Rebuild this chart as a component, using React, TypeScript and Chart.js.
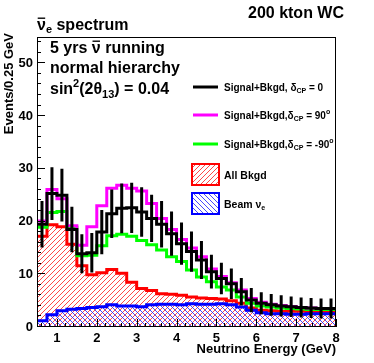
import React, { useEffect, useRef } from 'react';
import { Chart, registerables } from 'chart.js';

Chart.register(...registerables);

// Bin edges (GeV) and bin centres of the 0.25 GeV histogram
const binEdges = [0.5, 0.75, 1, 1.25, 1.5, 1.75, 2, 2.25, 2.5, 2.75, 3, 3.25, 3.5, 3.75, 4, 4.25, 4.5, 4.75, 5, 5.25, 5.5, 5.75, 6, 6.25, 6.5, 6.75, 7, 7.25, 7.5, 7.75, 8];
const binCenters = [0.625, 0.875, 1.125, 1.375, 1.625, 1.875, 2.125, 2.375, 2.625, 2.875, 3.125, 3.375, 3.625, 3.875, 4.125, 4.375, 4.625, 4.875, 5.125, 5.375, 5.625, 5.875, 6.125, 6.375, 6.625, 6.875, 7.125, 7.375, 7.625, 7.875];

// Signal+Bkgd, dCP = 0 (black, with errors)
const sigBkgdCP0 = [19.5, 25.3, 25.0, 18.5, 13.9, 14.1, 18.0, 21.5, 22.5, 22.6, 21.8, 20.6, 19.5, 17.7, 15.8, 14.3, 12.7, 10.5, 9.2, 8.2, 6.7, 5.1, 4.5, 4.2, 4.0, 3.85, 3.7, 3.6, 3.5, 3.5];
const sigBkgdCP0Err = [4.4, 5.0, 5.0, 4.3, 3.7, 3.75, 4.2, 4.6, 4.7, 4.75, 4.7, 4.5, 4.4, 4.2, 4.0, 3.8, 3.6, 3.2, 3.0, 2.9, 2.6, 2.3, 2.1, 2.05, 2.0, 1.95, 1.9, 1.9, 1.9, 1.9];
// Signal+Bkgd, dCP = 90 (magenta)
const sigBkgdCP90 = [20.1, 26.1, 24.3, 19.2, 15.5, 19.0, 23.0, 26.3, 26.9, 26.3, 25.8, 23.4, 20.6, 18.5, 16.6, 15.0, 13.3, 11.0, 9.6, 8.4, 7.0, 5.4, 4.7, 4.3, 4.1, 3.9, 3.7, 3.6, 3.5, 3.5];
// Signal+Bkgd, dCP = -90 (green)
const sigBkgdCPm90 = [18.9, 21.7, 21.9, 18.9, 13.5, 13.6, 15.4, 17.3, 17.6, 17.2, 16.4, 15.6, 14.6, 13.3, 12.4, 10.8, 9.5, 8.6, 7.6, 7.0, 5.7, 4.5, 4.0, 3.8, 3.6, 3.5, 3.4, 3.3, 3.3, 3.3];
// All Bkgd (red hatched)
const allBkgd = [17.2, 19.4, 19.0, 15.7, 11.6, 9.9, 10.3, 10.9, 10.2, 8.5, 7.3, 6.9, 6.3, 6.2, 6.0, 5.7, 5.5, 5.4, 5.3, 5.0, 4.5, 3.6, 3.2, 3.1, 3.0, 3.0, 3.0, 2.9, 2.9, 2.9];
// Beam nu_e (blue hatched)
const beamNue = [1.2, 2.3, 3.1, 3.35, 3.5, 3.7, 3.85, 4.2, 4.0, 4.0, 3.85, 4.2, 4.3, 4.3, 4.2, 4.4, 4.3, 4.3, 4.4, 4.2, 3.8, 3.2, 2.7, 2.5, 2.5, 2.4, 2.4, 2.5, 2.5, 2.5];

const xTickLabels = [1, 2, 3, 4, 5, 6, 7, 8];
const yTickLabels = [0, 10, 20, 30, 40, 50];

const FONT = '"Liberation Sans", Arial, Helvetica, sans-serif';

function stepPoints(values: number[]) {
  return binEdges.map((e, i) => ({ x: e, y: values[Math.min(i, values.length - 1)] }));
}

function makeHatch(color: string, forward: boolean): CanvasPattern | string {
  const s = 5;
  const c = document.createElement('canvas');
  c.width = s;
  c.height = s;
  const g = c.getContext('2d');
  if (!g) return 'transparent';
  g.strokeStyle = color;
  g.lineWidth = 1;
  g.beginPath();
  if (forward) {
    g.moveTo(-1, s + 1); g.lineTo(s + 1, -1);
    g.moveTo(-1, 1); g.lineTo(1, -1);
    g.moveTo(s - 1, s + 1); g.lineTo(s + 1, s - 1);
  } else {
    g.moveTo(-1, -1); g.lineTo(s + 1, s + 1);
    g.moveTo(-1, s - 1); g.lineTo(1, s + 1);
    g.moveTo(s - 1, -1); g.lineTo(s + 1, 1);
  }
  g.stroke();
  const p = g.createPattern(c, 'repeat');
  return p || 'transparent';
}

type Part = { t: string; size?: number; dy?: number; bar?: boolean };

function drawRich(ctx: CanvasRenderingContext2D, x: number, y: number, parts: Part[], base: number) {
  let cx = x;
  for (const p of parts) {
    const size = p.size ?? base;
    ctx.font = `bold ${size}px ${FONT}`;
    const w = ctx.measureText(p.t).width;
    const yy = y + (p.dy ?? 0);
    ctx.fillText(p.t, cx, yy);
    if (p.bar) {
      ctx.fillRect(cx + w * 0.08, yy - size * 0.78, w * 0.84, Math.max(1.2, size * 0.085));
    }
    cx += w;
  }
  return cx;
}

const decorations = {
  id: 'rootDecorations',
  afterDatasetsDraw(chart: any) {
    const { ctx, chartArea: a, scales } = chart;
    const xs = scales.x;
    const ys = scales.y;
    ctx.save();
    ctx.beginPath();
    ctx.rect(a.left, a.top, a.right - a.left, a.bottom - a.top);
    ctx.clip();
    ctx.strokeStyle = '#000';
    ctx.lineWidth = 3;
    ctx.beginPath();
    binCenters.forEach((c, i) => {
      const px = xs.getPixelForValue(c);
      const v = sigBkgdCP0[i];
      const e = sigBkgdCP0Err[i];
      ctx.moveTo(px, ys.getPixelForValue(v + e));
      ctx.lineTo(px, ys.getPixelForValue(Math.max(0, v - e)));
    });
    ctx.stroke();
    ctx.restore();
  },
  afterDraw(chart: any) {
    const { ctx, chartArea: a, scales } = chart;
    const xs = scales.x;
    const ys = scales.y;
    ctx.save();
    // frame
    ctx.strokeStyle = '#000';
    ctx.lineWidth = 1;
    ctx.strokeRect(Math.round(a.left) + 0.5, Math.round(a.top) + 0.5, Math.round(a.right - a.left) - 1, Math.round(a.bottom - a.top) - 1);
    // y ticks (inside)
    ctx.beginPath();
    for (let v = 0; v <= ys.max + 1e-6; v += 2) {
      const py = Math.round(ys.getPixelForValue(v)) - 0.5;
      const len = v % 10 === 0 ? 8 : 4;
      ctx.moveTo(a.left, py);
      ctx.lineTo(a.left + len, py);
    }
    // x ticks (inside)
    for (let k = 3; k <= 40; k++) {
      const v = k * 0.2;
      if (v < xs.min - 1e-6 || v > xs.max + 1e-6) continue;
      const px = Math.round(xs.getPixelForValue(v)) + 0.5;
      const len = k % 5 === 0 ? 8 : 4;
      ctx.moveTo(px, a.bottom);
      ctx.lineTo(px, a.bottom - len);
    }
    ctx.stroke();

    ctx.fillStyle = '#000';
    ctx.textBaseline = 'alphabetic';
    ctx.textAlign = 'left';

    // top-right label
    ctx.font = `bold 16px ${FONT}`;
    ctx.textAlign = 'right';
    ctx.fillText('200 kton WC', 344, 18);
    ctx.textAlign = 'left';

    // title
    drawRich(ctx, 37, 30, [
      { t: '\u03BD', bar: true },
      { t: 'e', size: 11, dy: 3 },
      { t: ' spectrum' },
    ], 16);

    // in-plot texts
    drawRich(ctx, 50, 53, [
      { t: '5 yrs ' },
      { t: '\u03BD', bar: true },
      { t: ' running' },
    ], 16);
    drawRich(ctx, 50, 73, [{ t: 'normal hierarchy' }], 16);
    drawRich(ctx, 50, 94, [
      { t: 'sin' },
      { t: '2', size: 11, dy: -7 },
      { t: '(2\u03B8' },
      { t: '13', size: 11, dy: 4 },
      { t: ') = 0.04' },
    ], 16);

    // legend
    const lx0 = 193;
    const lx1 = 218;
    const tx = 224;
    const lineEntries = [
      { y: 87, color: '#000000', parts: [{ t: 'Signal+Bkgd, \u03B4' }, { t: 'CP', size: 7, dy: 2 }, { t: ' = 0' }] },
      { y: 115, color: '#ff00ff', parts: [{ t: 'Signal+Bkgd,\u03B4' }, { t: 'CP', size: 7, dy: 2 }, { t: ' = 90' }, { t: 'o', size: 7, dy: -5 }] },
      { y: 144, color: '#00ff00', parts: [{ t: 'Signal+Bkgd,\u03B4' }, { t: 'CP', size: 7, dy: 2 }, { t: ' = -90' }, { t: 'o', size: 7, dy: -5 }] },
    ];
    ctx.lineWidth = 3;
    for (const e of lineEntries) {
      ctx.strokeStyle = e.color;
      ctx.beginPath();
      ctx.moveTo(lx0, e.y);
      ctx.lineTo(lx1, e.y);
      ctx.stroke();
      ctx.fillStyle = '#000';
      drawRich(ctx, tx, e.y + 3.5, e.parts, 10);
    }
    const boxes = [
      { y0: 164, y1: 185, color: '#ff0000', fill: chart.$redHatch, parts: [{ t: 'All Bkgd' }] },
      { y0: 193, y1: 214, color: '#0000ff', fill: chart.$blueHatch, parts: [{ t: 'Beam \u03BD' }, { t: 'e', size: 7, dy: 2 }] },
    ];
    for (const b of boxes) {
      ctx.fillStyle = '#ffffff';
      ctx.fillRect(192, b.y0, 27, b.y1 - b.y0);
      ctx.fillStyle = b.fill;
      ctx.fillRect(192, b.y0, 27, b.y1 - b.y0);
      ctx.strokeStyle = b.color;
      ctx.lineWidth = 2;
      ctx.strokeRect(192, b.y0, 27, b.y1 - b.y0);
      ctx.fillStyle = '#000';
      drawRich(ctx, tx, (b.y0 + b.y1) / 2 + 4, b.parts, 10.5);
    }

    // axis titles
    ctx.fillStyle = '#000';
    ctx.font = `bold 13px ${FONT}`;
    ctx.textAlign = 'right';
    ctx.fillText('Neutrino Energy (GeV)', 336, 353);
    ctx.save();
    ctx.translate(13, 33);
    ctx.rotate(-Math.PI / 2);
    ctx.textAlign = 'right';
    ctx.fillText('Events/0.25 GeV', 0, 0);
    ctx.restore();

    ctx.restore();
  },
};

export default function App() {
  const canvasRef = useRef<HTMLCanvasElement | null>(null);

  useEffect(() => {
    const canvas = canvasRef.current;
    if (!canvas) return;
    const redHatch = makeHatch('rgba(255,40,40,0.85)', true);
    const blueHatch = makeHatch('rgba(40,40,255,0.85)', false);
    const tickFont = { family: FONT, size: 13, weight: 'bold' as const };
    const chart: any = new Chart(canvas, {
      type: 'line',
      data: {
        datasets: [
          { label: 'All Bkgd', data: stepPoints(allBkgd), stepped: 'before', borderColor: '#ff0000', backgroundColor: redHatch as any, fill: 'origin', borderWidth: 3, pointRadius: 0, order: 5 },
          { label: 'Beam nue', data: stepPoints(beamNue), stepped: 'before', borderColor: '#0000ff', backgroundColor: blueHatch as any, fill: 'origin', borderWidth: 3, pointRadius: 0, order: 4 },
          { label: 'dCP=-90', data: stepPoints(sigBkgdCPm90), stepped: 'before', borderColor: '#00ff00', fill: false, borderWidth: 3, pointRadius: 0, order: 3 },
          { label: 'dCP=90', data: stepPoints(sigBkgdCP90), stepped: 'before', borderColor: '#ff00ff', fill: false, borderWidth: 3, pointRadius: 0, order: 2 },
          { label: 'dCP=0', data: stepPoints(sigBkgdCP0), stepped: 'before', borderColor: '#000000', fill: false, borderWidth: 3, pointRadius: 0, order: 1 },
        ] as any,
      },
      options: {
        animation: false,
        responsive: false,
        devicePixelRatio: 1,
        events: [],
        layout: { padding: { top: 37, right: 38, left: 0, bottom: 0 } },
        elements: { line: { borderJoinStyle: 'miter', tension: 0 } },
        plugins: { legend: { display: false }, tooltip: { enabled: false }, title: { display: false } },
        scales: {
          x: {
            type: 'linear',
            min: 0.5,
            max: 8,
            grid: { display: false, drawTicks: false },
            border: { display: false },
            ticks: { font: tickFont, color: '#000', padding: 4, maxRotation: 0, autoSkip: false },
            afterBuildTicks: (s: any) => { s.ticks = xTickLabels.map((v) => ({ value: v })); },
            afterFit: (s: any) => { s.height = 36; },
          },
          y: {
            type: 'linear',
            min: 0,
            max: 55,
            grid: { display: false, drawTicks: false },
            border: { display: false },
            ticks: { font: tickFont, color: '#000', padding: 4, autoSkip: false },
            afterBuildTicks: (s: any) => { s.ticks = yTickLabels.map((v) => ({ value: v })); },
            afterFit: (s: any) => { s.width = 37; },
          },
        },
      } as any,
      plugins: [decorations as any],
    });
    chart.$redHatch = redHatch;
    chart.$blueHatch = blueHatch;
    chart.draw();
    return () => chart.destroy();
  }, []);

  return (
    <div style={{ position: 'fixed', left: 0, top: 0, width: 374, height: 363, background: '#fff' }}>
      <canvas ref={canvasRef} width={374} height={363} style={{ display: 'block', width: 374, height: 363 }} />
    </div>
  );
}
